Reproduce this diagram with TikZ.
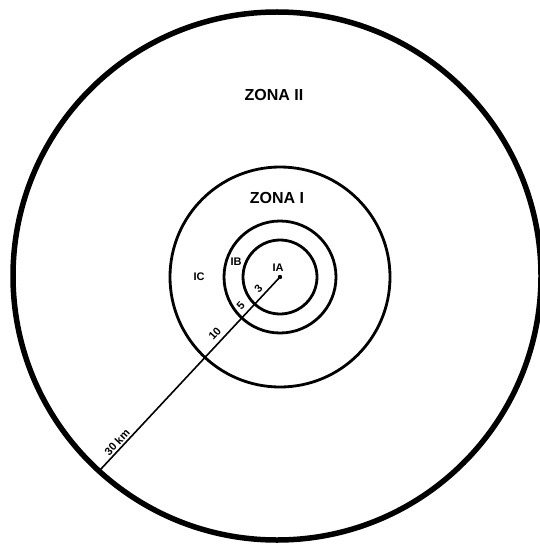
\documentclass[tikz,border=0pt]{standalone}
\usepackage{fontspec}
\setmainfont{Liberation Sans}
\usetikzlibrary{calc}
\begin{document}
\begin{tikzpicture}[x=1pt,y=-1pt,
  zonelabel/.style={font=\fontsize{16}{16}\selectfont\bfseries, inner sep=0pt},
  sublabel/.style={font=\fontsize{11}{11}\selectfont\bfseries, inner sep=0pt},
  distlabel/.style={font=\fontsize{11}{11}\selectfont\bfseries, inner sep=0pt, rotate=47},
  ring/.style={draw, line width=2.8pt},
  outerring/.style={draw, line width=5.5pt},
  radiusline/.style={draw, line width=1.6pt}
]
\fill[white] (0,0) rectangle (539,548);
\useasboundingbox (0,0) rectangle (539,548);
\coordinate (c) at (280,277);
\coordinate (o) at (277,276);
% circles
\draw[outerring] (o) circle[radius=264];
\draw[ring] (c) circle[radius=110];
\draw[ring] (c) circle[radius=56];
\draw[ring] (c) circle[radius=37];
% radius
\coordinate (e) at ($(c)+(133:264)$);
\draw[radiusline] (c) -- (e);
\fill (c) circle[radius=2.2];
% zone labels
\node[zonelabel] (z2) at (274,95) {ZONA II};
\node[zonelabel] (z1) at (277,198) {ZONA I};
\node[sublabel] (ia) at (278,268) {IA};
\node[sublabel] (ib) at (236,262) {IB};
\node[sublabel] (ic) at (199,277) {IC};
% distance labels
\node[distlabel] (d3) at ($(c)+(133:23)+(223:8)$) {3};
\node[distlabel] (d5) at ($(c)+(133:48)+(223:9)$) {5};
\node[distlabel] (d10) at ($(c)+(133:86)+(223:9)$) {10};
\node[distlabel] (d30) at ($(c)+(133:232)+(223:6.5)$) {30 km};
\end{tikzpicture}
\end{document}
